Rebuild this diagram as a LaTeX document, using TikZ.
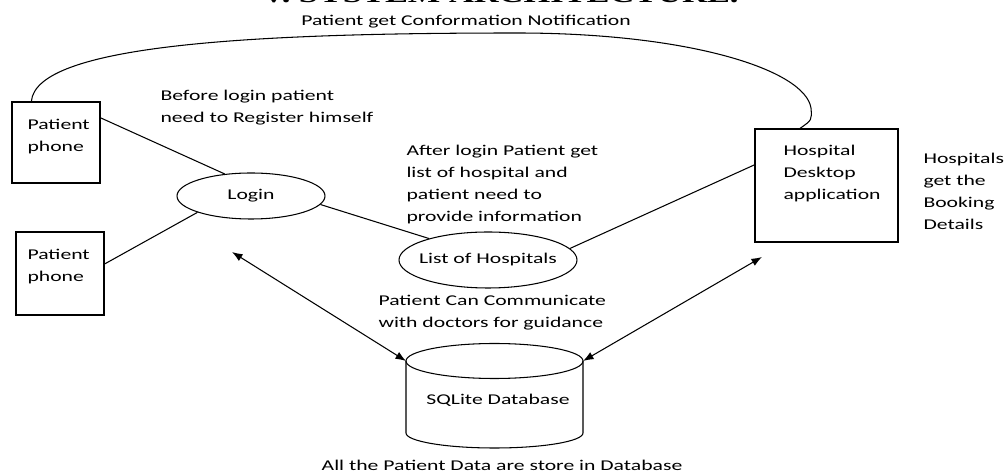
\documentclass[tikz,border=0pt]{standalone}
\usepackage{fontspec}
\setmainfont{Carlito}[FakeStretch=1.45]
\newfontfamily\headfont{Liberation Serif}[FakeStretch=1.45]
\usepackage{tikz}
\usetikzlibrary{arrows.meta,shapes,positioning}

\begin{document}
\begin{tikzpicture}[x=0.2mm,y=0.2mm,line width=0.6pt,
        every node/.style={inner sep=0pt},
        note/.style={font=\fontsize{8.5}{12.5}\selectfont, align=left},
        unit/.style={draw, rectangle},
        proc/.style={draw, ellipse},
        link/.style={line width=0.6pt},
        dlink/.style={line width=0.6pt, {Latex[length=6pt,width=4.5pt]}-{Latex[length=6pt,width=4.5pt]}}]
                \useasboundingbox (0,0) rectangle (1008,-473);
                \clip (0,0) rectangle (1008,-473);
                % heading, cut by the top edge
                \node[font=\headfont\bfseries\fontsize{13.5}{15}\selectfont, anchor=base] (title) at (500,-3) {V. SYSTEM ARCHITECTURE.};
                % boxes and processes
                \node[unit, minimum width=17.6mm, minimum height=16.2mm] (phoneA) at (56,-142.5) {};
                \node[note, anchor=north west] (phoneAtxt) at (27,-118.5) {Patient\\phone};
                \node[unit, minimum width=17.6mm, minimum height=16.6mm] (phoneB) at (60,-273.5) {};
                \node[note, anchor=north west] (phoneBtxt) at (27,-248.5) {Patient\\phone};
                \node[unit, minimum width=28.6mm, minimum height=22.6mm] (desktop) at (826.5,-185.5) {};
                \node[note, anchor=north west] (desktoptxt) at (783,-144.5) {Hospital\\Desktop\\application};
                \node[proc, minimum width=29.6mm, minimum height=9.2mm, label={[note]center:Login}] (login) at (251,-196) {};
                \node[proc, minimum width=35.6mm, minimum height=11.2mm, label={[note]center:List of Hospitals}] (hosplist) at (488,-260) {};
                % database
                \draw (406,-361) -- (406,-433) arc[start angle=180, end angle=360, x radius=17.7mm, y radius=3mm] -- (583,-361);
                \draw (494.5,-361) ellipse [x radius=17.7mm, y radius=3.5mm];
                \coordinate (dbL) at (406,-361);
                \coordinate (dbR) at (583,-361);
                \node[note] (dblabel) at (498,-400) {SQLite Database};
                % notes
                \node[note] (notify) at (466,-22) {Patient get Conformation Notification};
                \node[note, anchor=north west] (register) at (160,-89.5) {Before login patient\\need to Register himself};
                \node[note, anchor=north west] (afterlogin) at (406,-144.5) {After login Patient get\\list of hospital and\\patient need to\\provide information};
                \node[note, anchor=north west] (commun) at (378,-294.5) {Patient Can Communicate\\with doctors for guidance};
                \node[note, anchor=north west] (booking) at (923,-152.5) {Hospitals\\get the\\Booking\\Details};
                \node[note] (store) at (502,-465) {All the Patient Data are store in Database};
                % connectors
                \draw[link] (phoneA.29) -- (login.140);
                \draw[link] (phoneB.12) -- (login.197);
                \draw[link] (login.-7) -- (hosplist.160);
                \draw[link] (hosplist.8) -- (desktop.164);
                \draw[link] (phoneA.121) .. controls (36,-45) and (250,-33) .. (517,-33)
                        .. controls (690,-33) and (805,-70) .. (811,-108)
                        .. controls (812,-120) .. (desktop.115);
                \coordinate (loginArr) at (232,-252);
                \coordinate (deskArr) at (762,-257);
                \draw[dlink] (loginArr) -- (dbL);
                \draw[dlink] (deskArr) -- (dbR);
            \end{tikzpicture}
\end{document}
